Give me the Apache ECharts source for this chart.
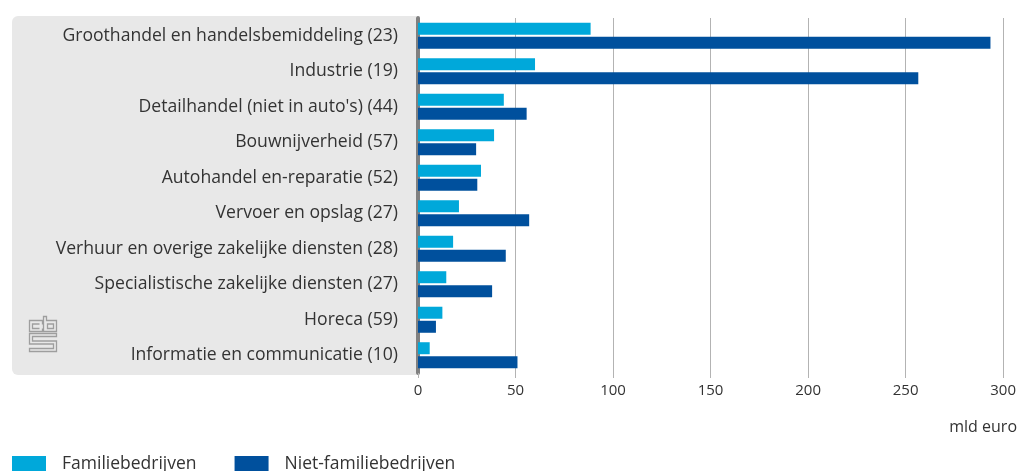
<!DOCTYPE html>
<html>
<head>
    <meta charset="utf-8">
    <title>Familiebedrijven per sector</title>
    <script src="https://cdn.jsdelivr.net/npm/echarts@6/dist/echarts.min.js"></script>
    <style>
        html, body {
            margin: 0;
            padding: 0;
            background: #fff;
        }
        #chart {
            width: 1019px;
            height: 471px;
        }
    </style>
</head>
<body>
<div id="chart"></div>
<script>
    // sectoren (aantal bedrijven tussen haakjes)
    var categories = [
        'Groothandel en handelsbemiddeling (23)',
        'Industrie (19)',
        "Detailhandel (niet in auto's) (44)",
        'Bouwnijverheid (57)',
        'Autohandel en-reparatie (52)',
        'Vervoer en opslag (27)',
        'Verhuur en overige zakelijke diensten (28)',
        'Specialistische zakelijke diensten (27)',
        'Horeca (59)',
        'Informatie en communicatie (10)'
    ];

    // mld euro
    var familie = [88.5, 60, 44, 39, 32.3, 21, 18, 14.5, 12.5, 6];
    var nietFamilie = [293.5, 256.5, 55.7, 29.8, 30.4, 57, 45, 38, 9.2, 51];

    var xTicks = [0, 50, 100, 150, 200, 250, 300];

    var textColor = '#333333';
    var fontFam = '"Open Sans", sans-serif';

    var chart = echarts.init(document.getElementById('chart'));

    var option = {
        animation: false,
        textStyle: { fontFamily: fontFam },
        grid: {
            left: 418,
            right: 12,
            top: 18,
            height: 355
        },
        legend: {
            data: ['Familiebedrijven', 'Niet-familiebedrijven'],
            left: 12,
            top: 455,
            padding: 0,
            icon: 'rect',
            itemWidth: 34,
            itemHeight: 16,
            itemGap: 38,
            textStyle: {
                color: textColor,
                fontSize: 17.5,
                lineHeight: 16,
                padding: [0, 0, 0, 11]
            }
        },
        xAxis: {
            type: 'value',
            min: xTicks[0],
            max: xTicks[xTicks.length - 1],
            interval: 50,
            axisLine: { show: false },
            axisTick: {
                show: true,
                length: 5,
                lineStyle: { color: '#b3b3b3', width: 1 }
            },
            splitLine: {
                lineStyle: { color: '#b3b3b3', width: 1 }
            },
            axisLabel: {
                color: textColor,
                fontSize: 15,
                margin: 10
            }
        },
        yAxis: {
            type: 'category',
            inverse: true,
            data: categories,
            offset: 2,
            axisTick: { show: false },
            axisLine: {
                lineStyle: { color: '#808080', width: 4 }
            },
            axisLabel: {
                color: textColor,
                fontSize: 17.6,
                margin: 18
            }
        },
        graphic: [
            {
                // grijs vlak achter de labels
                type: 'rect',
                z: -10,
                shape: { x: 12, y: 16, width: 404, height: 359, r: [6, 0, 0, 6] },
                style: { fill: '#e8e8e8' }
            },
            {
                type: 'text',
                right: 2,
                top: 419,
                style: {
                    text: 'mld euro',
                    fill: textColor,
                    font: '16px ' + fontFam
                }
            },
            // cbs logo
            {
                type: 'group',
                left: 27,
                top: 314,
                children: [
                    {
                        type: 'polyline',
                        shape: { points: [[13, 8], [13, 4], [0, 4], [0, 15], [13, 15], [13, 12]] },
                        style: { stroke: '#9e9e9e', lineWidth: 1.3, fill: null }
                    },
                    {
                        type: 'polyline',
                        shape: { points: [[10, 7.5], [3, 7.5], [3, 12], [10, 12]] },
                        style: { stroke: '#9e9e9e', lineWidth: 1.3, fill: null }
                    },
                    {
                        type: 'polygon',
                        shape: { points: [[14, 0], [17, 0], [17, 4], [27, 4], [27, 15], [14, 15]] },
                        style: { stroke: '#9e9e9e', lineWidth: 1.3, fill: null }
                    },
                    {
                        type: 'rect',
                        shape: { x: 18, y: 7.5, width: 6, height: 4.5 },
                        style: { stroke: '#9e9e9e', lineWidth: 1.3, fill: null }
                    },
                    {
                        type: 'polygon',
                        shape: { points: [[0, 17], [27, 17], [27, 20], [3, 20], [3, 24.5], [27, 24.5], [27, 35], [0, 35], [0, 32], [24, 32], [24, 27.5], [0, 27.5]] },
                        style: { stroke: '#9e9e9e', lineWidth: 1.3, fill: null }
                    }
                ]
            }
        ],
        series: [
            {
                name: 'Familiebedrijven',
                type: 'bar',
                data: familie,
                barWidth: 12,
                barGap: '17%',
                itemStyle: { color: '#00a8da' }
            },
            {
                name: 'Niet-familiebedrijven',
                type: 'bar',
                data: nietFamilie,
                barWidth: 12,
                itemStyle: { color: '#00509d' }
            }
        ]
    };

    chart.setOption(option);
</script>
</body>
</html>
